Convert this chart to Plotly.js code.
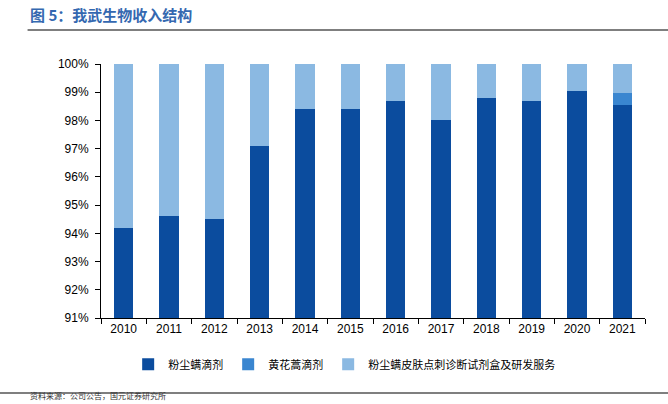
<!DOCTYPE html>
<html><head><meta charset="utf-8">
<script src="https://cdn.plot.ly/plotly-3.0.1.min.js"></script>
<style>body{margin:0;background:#fff}#c{width:668px;height:404px}</style>
</head><body><div id="c"></div>
<script>
const years = ['2010','2011','2012','2013','2014','2015','2016','2017','2018','2019','2020','2021'];
const dustMiteDrops = [94.2,94.6,94.5,97.1,98.4,98.4,98.7,98.0,98.8,98.7,99.03,98.53];
const artemisiaDrops = [0,0,0,0,0,0,0,0,0,0,0,0.45];
const skinTestKits = [5.8,5.4,5.5,2.9,1.6,1.6,1.3,2.0,1.2,1.3,0.97,1.02];
const names = ['粉尘螨滴剂','黄花蒿滴剂','粉尘螨皮肤点刺诊断试剂盒及研发服务'];
const colors = ['#0B4C9E','#3A86D0','#8BB9E2'];
const series = [dustMiteDrops, artemisiaDrops, skinTestKits];
const traces = series.map((v,i)=>({type:'bar',x:years,y:v,name:names[i],marker:{color:colors[i]},hoverinfo:'none'}));
const layout = {
  width:668,height:404,barmode:'stack',bargap:0.58,
  margin:{l:101,r:23,t:64,b:86},
  paper_bgcolor:'#fff',plot_bgcolor:'#fff',
  font:{family:'Liberation Sans, Arial, sans-serif',size:12,color:'#000'},
  xaxis:{type:'category',showline:true,linecolor:'#000',linewidth:1,ticks:'outside',ticklen:5,tickcolor:'#000',tickson:'boundaries',showgrid:false,tickfont:{size:12}},
  yaxis:{range:[91,100],dtick:1,ticksuffix:'%',showline:true,linecolor:'#000',linewidth:1,ticks:'outside',ticklen:5,tickcolor:'#000',showgrid:false,zeroline:false,tickfont:{size:12},ticklabelstandoff:4},
  showlegend:true,
  legend:{orientation:'h',traceorder:'normal',x:0.447,xanchor:'center',y:-0.125,yanchor:'top',font:{family:'Noto Sans CJK SC, sans-serif',size:11},itemwidth:20,tracegroupgap:0},
  annotations:[
    {xref:'paper',yref:'paper',x:-0.135,y:1.195,xanchor:'left',yanchor:'middle',showarrow:false,text:'<b>图 5：我武生物收入结构</b>',font:{family:'Noto Sans CJK SC, sans-serif',size:15,color:'#3468B0'}},
    {xref:'paper',yref:'paper',x:-0.134,y:-0.333,xanchor:'left',yanchor:'bottom',showarrow:false,text:'资料来源：公司公告，国元证券研究所',font:{family:'Noto Sans CJK SC, sans-serif',size:8,color:'#333'}}
  ],
  shapes:[
    {type:'line',xref:'paper',yref:'paper',x0:-0.135,x1:1.05,y0:1.134,y1:1.134,line:{color:'#555',width:1.5}},
    {type:'line',xref:'paper',yref:'paper',x0:-0.19,x1:1.05,y0:-0.295,y1:-0.295,line:{color:'#555',width:1.5}}
  ]
};
Plotly.newPlot('c',traces,layout,{displayModeBar:false,staticPlot:true});
</script></body></html>
